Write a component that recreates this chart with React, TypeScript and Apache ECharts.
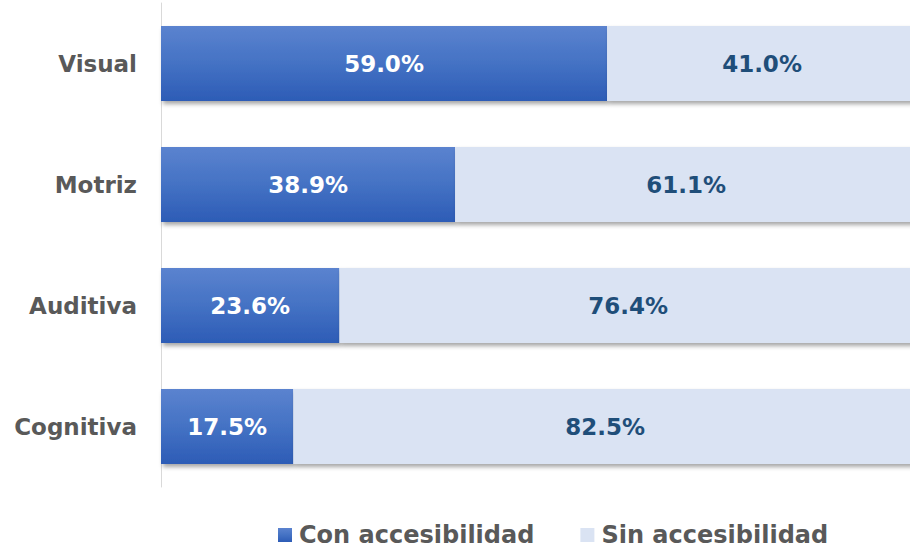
import React, { useEffect, useRef } from "react";
import * as echarts from "echarts";

const categories = ["Visual", "Motriz", "Auditiva", "Cognitiva"];
const conAccesibilidad = [59.0, 38.9, 23.6, 17.5];
const sinAccesibilidad = [41.0, 61.1, 76.4, 82.5];
const seriesNames = ["Con accesibilidad", "Sin accesibilidad"];

export default function App() {
  const ref = useRef<HTMLDivElement>(null);
  useEffect(() => {
    document.body.style.margin = "0";
    const chart = echarts.init(ref.current!, undefined, { renderer: "svg" });
    const font = "DejaVu Sans";
    const shadow = {
      shadowColor: "rgba(0,0,0,0.35)",
      shadowBlur: 4,
      shadowOffsetX: 2,
      shadowOffsetY: 3,
    };
    chart.setOption({
      animation: false,
      backgroundColor: "#ffffff",
      grid: { left: 161, top: 3, height: 484, width: 756 },
      xAxis: { type: "value", min: 0, max: 100, show: false },
      yAxis: {
        type: "category",
        data: categories,
        inverse: true,
        axisLine: { show: true, lineStyle: { color: "#d9d9d9", width: 1 } },
        axisTick: { show: false },
        axisLabel: {
          margin: 24,
          color: "#595959",
          fontFamily: font,
          fontWeight: "bold",
          fontSize: 23,
        },
      },
      legend: {
        left: 273,
        top: 518,
        itemWidth: 14,
        itemHeight: 14,
        itemGap: 46,
        icon: "rect",
        textStyle: {
          color: "#595959",
          fontFamily: font,
          fontWeight: "bold",
          fontSize: 24,
          padding: [0, 0, 0, 2],
        },
        data: seriesNames,
      },
      series: [
        {
          name: seriesNames[0],
          type: "bar",
          stack: "total",
          barWidth: 75,
          data: conAccesibilidad,
          itemStyle: {
            color: new echarts.graphic.LinearGradient(0, 0, 0, 1, [
              { offset: 0, color: "#5b83cf" },
              { offset: 0.5, color: "#4472c4" },
              { offset: 1, color: "#2d5cb6" },
            ]),
            ...shadow,
          },
          label: {
            show: true,
            position: "inside",
            color: "#ffffff",
            fontFamily: font,
            fontWeight: "bold",
            fontSize: 23,
            formatter: (p: any) => p.value.toFixed(1) + "%",
          },
        },
        {
          name: seriesNames[1],
          type: "bar",
          stack: "total",
          barWidth: 75,
          data: sinAccesibilidad,
          itemStyle: { color: "#dae3f3", ...shadow },
          label: {
            show: true,
            position: "inside",
            color: "#1f4e79",
            fontFamily: font,
            fontWeight: "bold",
            fontSize: 23,
            formatter: (p: any) => p.value.toFixed(1) + "%",
          },
        },
      ],
    });
    return () => chart.dispose();
  }, []);
  return (
    <div style={{ width: 910, height: 548, overflow: "hidden" }}>
      <div ref={ref} style={{ width: 920, height: 548 }} />
    </div>
  );
}
